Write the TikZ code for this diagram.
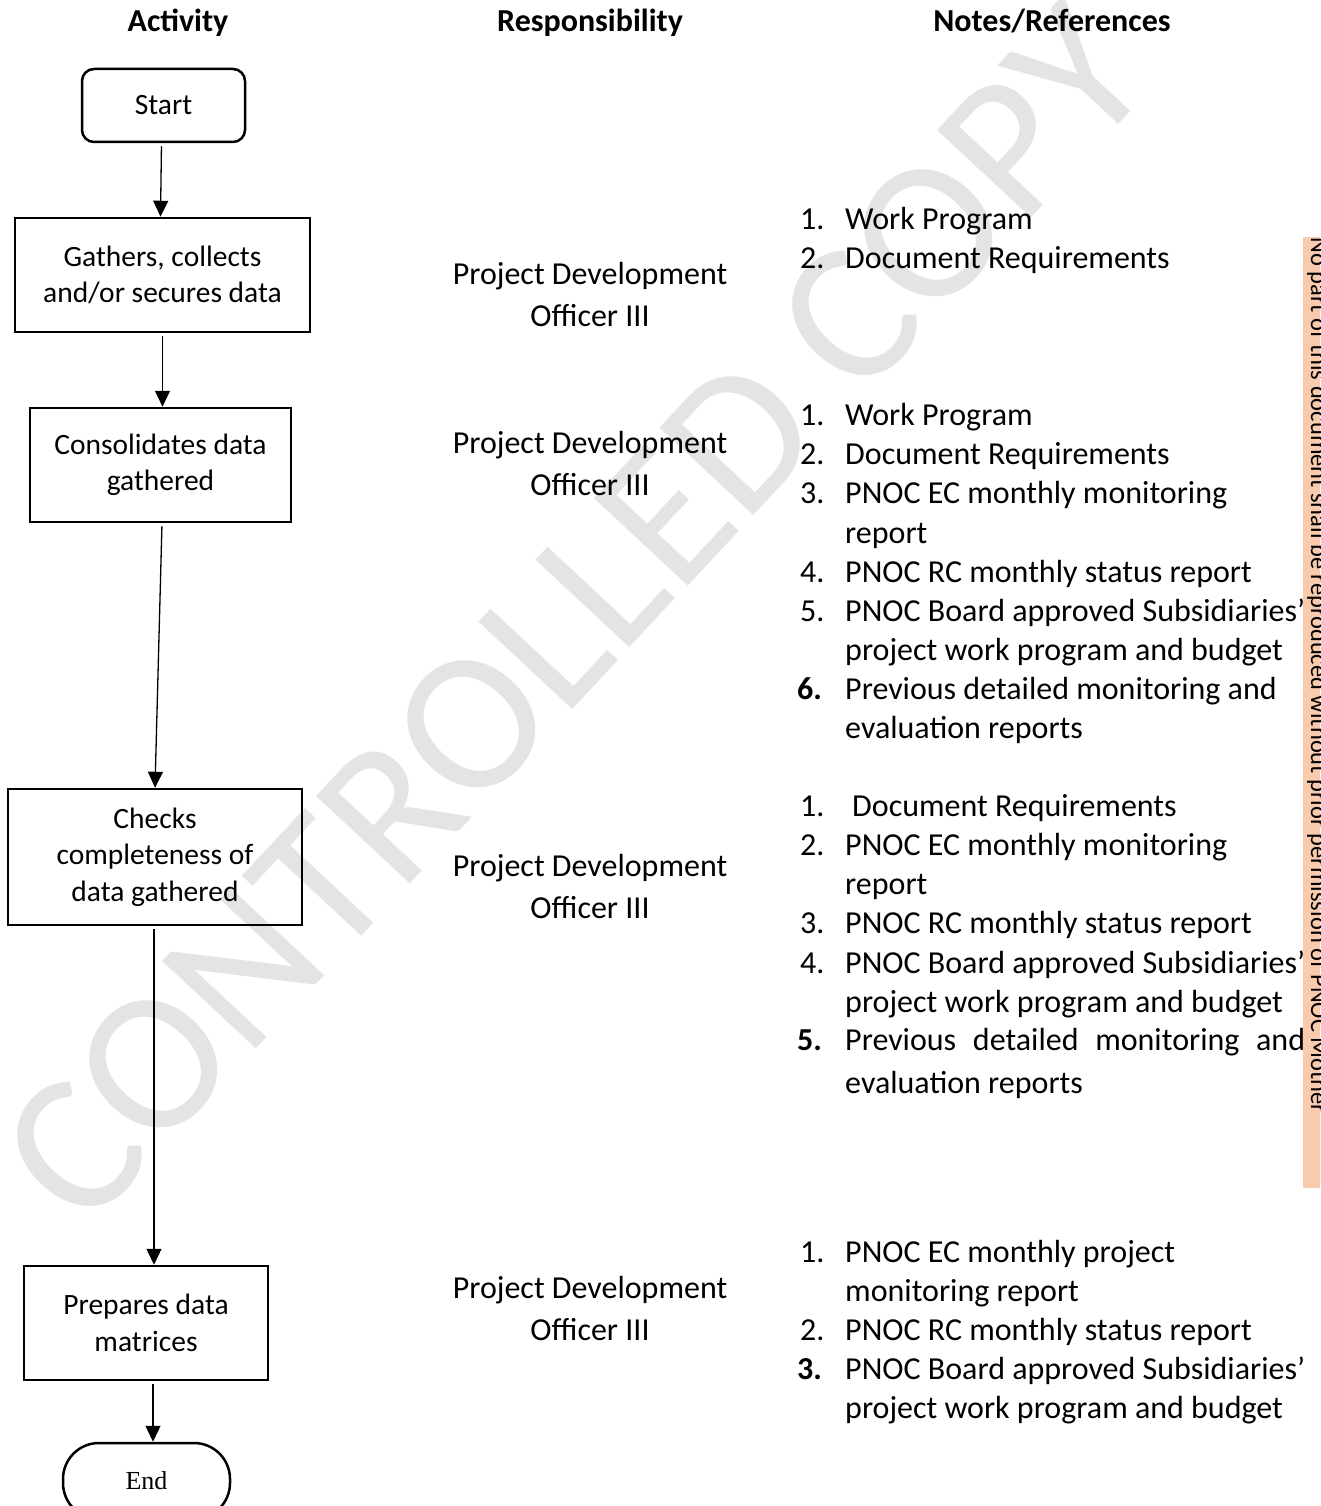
\documentclass[tikz,border=0pt]{standalone}
\usepackage{fontspec}
\setmainfont{Carlito}
\newfontfamily\tnr{Liberation Serif}
\usetikzlibrary{arrows.meta}
\definecolor{stripcol}{HTML}{F8CBAD}
\definecolor{wmcol}{HTML}{E4E4E4}
\begin{document}
\begin{tikzpicture}[x=1pt,y=-1pt,
  hdr/.style={inner sep=0pt, anchor=base, font=\fontsize{32}{39}\selectfont\bfseries},
  box/.style={draw, line width=2.5pt, align=center, inner sep=0pt, font=\fontsize{29.5}{36.5}\selectfont},
  resp/.style={align=center, inner sep=0pt, font=\fontsize{32}{42}\selectfont},
  note/.style={anchor=base west, inner sep=0pt, font=\fontsize{32}{39}\selectfont},
  conn/.style={line width=1.3pt, -{Triangle[length=16pt,width=15pt]}, shorten <=3pt},
]
\useasboundingbox (0,0) rectangle (1320,1506);
\clip (0,0) rectangle (1320,1506);
% watermark
\node[rotate=47, text=wmcol, font=\fontsize{200}{200}\selectfont, inner sep=0pt] (wm) at (574,614) {CONTROLLED COPY};
% side strip
\fill[stripcol] (1303,237) rectangle (1321,1188);
\node[rotate=-90, anchor=base west, inner sep=0pt, font=\fontsize{24.5}{24.5}\selectfont] (strip) at (1311,237) {No part of this document shall be reproduced without prior permission of PNOC Mother};
% headers
\node[hdr] (h1) at (178,32) {Activity};
\node[hdr] (h2) at (590,32) {Responsibility};
\node[hdr] (h3) at (1052,32) {Notes/References};
% flow
\node[box, rounded corners=12pt, minimum width=163pt, minimum height=73pt] (start) at (163.5,105.5) {Start};
\node[box, minimum width=295pt, minimum height=114pt] (b1) at (162.5,275) {Gathers, collects\\and/or secures data};
\node[box, minimum width=261pt, minimum height=114pt] (b2) at (160.5,465) {Consolidates data\\gathered};
\node[box, minimum width=294pt, minimum height=136pt] (b3) at (155,857) {Checks\\completeness of\\data gathered};
\node[box, minimum width=244pt, minimum height=114pt] (b4) at (146,1323) {Prepares data\\matrices};
\node[box, rounded corners=36pt, minimum width=167pt, minimum height=76pt, font=\tnr\fontsize{26}{30}\selectfont] (end) at (146.5,1481) {End};
\draw[conn] ([xshift=-2pt]start.south) -- ([xshift=-2pt]b1.north);
\draw[conn] (b1.south) -- (b1.south |- b2.north);
\draw[conn] ([xshift=1.5pt]b2.south) -- ([xshift=0pt]b3.north);
\draw[conn] ([xshift=-1pt]b3.south) -- ([xshift=-1pt]b3.south |- b4.north);
\draw[conn] ([xshift=7pt]b4.south) -- ([xshift=7pt]b4.south |- end.north);
% responsibility
\node[resp] (r1) at (590,294) {Project Development\\Officer III};
\node[resp] (r2) at (590,463) {Project Development\\Officer III};
\node[resp] (r3) at (590,886) {Project Development\\Officer III};
\node[resp] (r4) at (590,1308) {Project Development\\Officer III};
% notes list 1
\node[note] (n1a) at (800,230) {1.};
\node[note] (n1b) at (845,230) {Work Program};
\node[note] (n1c) at (800,269) {2.};
\node[note] (n1d) at (845,269) {Document Requirements};
% notes list 2
\node[note] (n2a) at (800,425) {1.};
\node[note] (n2b) at (845,425) {Work Program};
\node[note] (n2c) at (800,464) {2.};
\node[note] (n2d) at (845,464) {Document Requirements};
\node[note] (n2e) at (800,503) {3.};
\node[note] (n2f) at (845,503) {PNOC EC monthly monitoring};
\node[note] (n2g) at (845,543) {report};
\node[note] (n2h) at (800,582) {4.};
\node[note] (n2i) at (845,582) {PNOC RC monthly status report};
\node[note] (n2j) at (800,621) {5.};
\node[note] (n2k) at (845,621) {PNOC Board approved Subsidiaries’};
\node[note] (n2l) at (845,660) {project work program and budget};
\node[note, font=\fontsize{32}{39}\selectfont\bfseries] (n2m) at (797,699) {6.};
\node[note] (n2n) at (845,699) {Previous detailed monitoring and};
\node[note] (n2o) at (845,738) {evaluation reports};
% notes list 3
\node[note] (n3a) at (800,816) {1.};
\node[note] (n3b) at (852,816) {Document Requirements};
\node[note] (n3c) at (800,855) {2.};
\node[note] (n3d) at (845,855) {PNOC EC monthly monitoring};
\node[note] (n3e) at (845,894) {report};
\node[note] (n3f) at (800,933) {3.};
\node[note] (n3g) at (845,933) {PNOC RC monthly status report};
\node[note] (n3h) at (800,973) {4.};
\node[note] (n3i) at (845,973) {PNOC Board approved Subsidiaries’};
\node[note] (n3j) at (845,1012) {project work program and budget};
\node[note, font=\fontsize{32}{39}\selectfont\bfseries] (n3k) at (797,1050) {5.};
\node[note] (n3l) at (845,1050) {\makebox[460pt][s]{Previous detailed monitoring and}};
\node[note] (n3m) at (845,1093) {evaluation reports};
% notes list 4
\node[note] (n4a) at (800,1262) {1.};
\node[note] (n4b) at (845,1262) {PNOC EC monthly project};
\node[note] (n4c) at (845,1301) {monitoring report};
\node[note] (n4d) at (800,1340) {2.};
\node[note] (n4e) at (845,1340) {PNOC RC monthly status report};
\node[note, font=\fontsize{32}{39}\selectfont\bfseries] (n4f) at (797,1379) {3.};
\node[note] (n4g) at (845,1379) {PNOC Board approved Subsidiaries’};
\node[note] (n4h) at (845,1418) {project work program and budget};
\end{tikzpicture}
\end{document}
